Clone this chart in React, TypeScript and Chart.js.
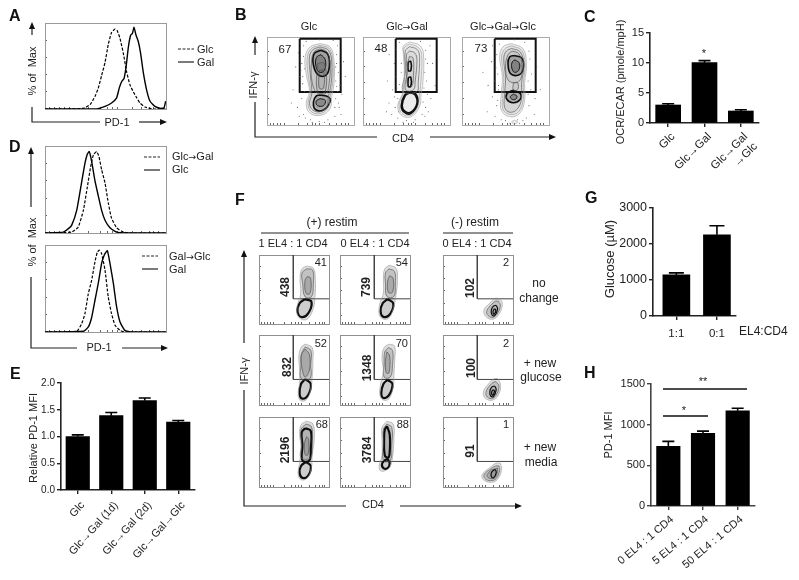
import React, { useEffect, useRef } from "react";
import { Chart, registerables } from "chart.js";

Chart.register(...registerables);
Chart.defaults.font.family = '"Liberation Sans", Arial, sans-serif';
Chart.defaults.color = "#222";

const W = 799;
const H = 580;
const FONT = '"Liberation Sans", Arial, sans-serif';

// ---------- Histogram data (PD-1 axis position, % of max) ----------
const histAGlc = [0,0, 18,0, 31.7,0.8, 37.2,5, 41.3,14.6, 44,24, 46.8,39, 49.6,54, 52.3,75, 55,89, 57.9,93, 59.8,90.8, 62,82, 64.7,65, 67.5,43, 70.2,28, 73,20, 75.8,13, 78.5,7, 82.6,2.3, 89.5,0, 100,0];
const histAGal = [0,0, 42.7,0, 49.6,3, 55,7, 59.2,13, 61.4,24.6, 63.4,32, 65.3,35.4, 67,49, 68.9,72, 70.8,86, 72.2,87.7, 73.6,95, 75.2,86, 77.1,78.5, 79,65, 81.3,42, 84,22, 86.8,9, 90.9,3, 95,0.8, 98.3,1.2, 99.7,9];
const histD1Glc = [0,0, 15.2,1, 19.3,5, 22,8.8, 26.2,26, 30.3,58.6, 33,80, 35,90.8, 36.6,93.5, 38.6,82, 41.3,60, 44,43, 46.8,26, 49.6,14.6, 53.7,6, 57.9,2, 62,0.4, 100,0];
const histD1GlcGal = [0,0, 22,1, 27.5,7, 31.7,26, 35,53, 37.7,76, 40,90, 42.7,93.5, 44.6,87.7, 46.8,72.8, 49.6,57.5, 52.3,34.5, 55,17, 59.2,6, 63.4,2, 68.9,0, 100,0];
const histD2GalGlc = [0,0, 26.2,0.8, 30.3,9.6, 33,21, 35.8,44, 38.6,59.6, 41.3,80.8, 43.3,92, 44.9,94, 46.8,90, 49.6,71, 52.3,40, 55,21, 57.9,7.7, 62,1.9, 66,0, 100,0];
const histD2Gal = [0,0, 31.7,0.8, 35.8,5.8, 38.6,17, 41.3,36.5, 44,55.8, 46.8,78.8, 49,88.5, 51.5,93.5, 53.7,78.8, 56.5,55.8, 59.2,28.8, 62,11.5, 66,1.9, 71.6,0, 100,0];

// ---------- Bar data ----------
const cCats = ["Glc", "Glc→Gal", ["Glc→Gal", "→Glc"]];
const cVals = [3.0, 10.05, 2.0];
const cErr = [3.2, 10.4, 2.2];
const eCats = ["Glc", "Glc→Gal (1d)", "Glc→Gal (2d)", "Glc→Gal→Glc"];
const eVals = [1.0, 1.39, 1.67, 1.27];
const eErr = [1.03, 1.45, 1.72, 1.3];
const gCats = ["1:1", "0:1"];
const gVals = [1142, 2257];
const gErr = [1198, 2508];
const hCats = ["0 EL4 : 1 CD4", "5 EL4 : 1 CD4", "50 EL4 : 1 CD4"];
const hVals = [734, 893, 1170];
const hErr = [795, 921, 1202];

// ---------- Flow-plot tick positions ----------
const flowTicksX = [4, 8, 12, 16, 20, 36, 46, 52, 56, 60, 72, 80, 86, 90, 94];
const flowTicksY = [12, 30, 48, 66, 84];
const histTicksY = [20, 40, 60, 80, 100];

// ---------- Gates ----------
const bGate = [37.6,98, 84.7,98, 84.7,37.6, 37.6,37.6, 37.6,98];
const fGate = [49,100, 49,36.5, 100,36.5];

// ---------- Panel B contours ----------
const b1Soft = [
  [61,92.5, 72.5,88.7, 77,73.6, 77,47, 74.4,32, 72.5,18.9, 63,11.3, 49.6,13.2, 45,24.5, 48.8,37.7, 45,58.5, 43.9,77.4, 49.6,88.7],
  [61,90.5, 71.5,87, 75.7,72.5, 75.4,47, 72.5,32, 70.6,20, 62,13, 51,15, 47,24.5, 50,37, 47,58.5, 46.4,77.4, 51,87],
];
const b1Mid = [
  [61,88.7, 70.6,85, 74.4,71.7, 73.7,47, 70.6,32, 68.7,20.8, 61,15, 52.6,17, 48.8,24.5, 51.5,35.8, 49.6,58.5, 48.8,77.4, 52.6,85.4],
  [61,86.5, 69,83, 72.5,70, 71.5,48, 68,36, 58,36, 52,48, 51,70, 54,83],
  [58,70, 66,70, 67,38, 58,38],
  [60,62, 65,62, 65,42, 60,42],
];
const b1Dark = [
  [61.8,84.9, 69.5,81, 71.8,67.9, 68,56.6, 59.2,56.6, 53.4,67.9, 54.2,81],
  [62,80, 67,74, 66,62, 60,60, 56,68, 57,77],
  [61,34, 70.6,32, 72.5,26.4, 65,17, 55.4,17.7, 53.4,26.4, 56.5,32.8],
  [61,30, 67,28, 65,22, 58,22, 56.5,27],
];
const b1Dust = [38,55, 40,70, 36,82, 42,90, 82,60, 80,80, 84,45, 79,30, 83,20, 40,30, 35,20, 42,12, 78,10, 70,6, 50,6, 60,4, 30,40, 86,35, 41,47, 39,62, 81,90, 33,66, 88,72, 45,95, 76,96, 60,97, 37,10, 85,12, 28,25, 90,55, 52,3, 66,3, 43,38, 81,38, 79,50, 42,78, 80,70, 82,25, 43,64, 41,55, 79,66, 80,44, 78,20, 44,8];

const b2Soft = [
  [53.4,94.3, 64.9,90.6, 69.5,81, 68.7,47, 66.8,35.8, 64.9,20.8, 55.3,9.4, 43.9,11.3, 40,22.6, 45.8,37.7, 47.7,77.4, 45.8,88.7],
  [53.4,92, 63,88.5, 67.5,80, 66.5,48, 65,36, 63,21, 55,11, 45,13, 41.5,23, 46.5,37, 47.5,62, 47,87],
];
const b2Mid = [
  [53.4,89, 62,86, 65,78, 63.5,48, 62,38, 46,38, 49,62, 48.5,84],
  [53.4,84, 59.5,82, 62,74, 60,50, 58,40, 49,40, 50.5,60, 50,80],
  [53.4,78, 57.5,76, 58,56, 56,44, 51,44, 51.5,70],
];
const b2Dark = [
  [53.4,37.7, 60.3,35.8, 63,24.5, 55.3,13.2, 47.7,14.3, 43.9,22, 47.7,34],
  [53.4,36.5, 59.5,34.5, 62,24.5, 55,14.5, 48.5,15.5, 45,22, 48.5,33],
  [52,72, 55,72, 55,62, 52,62],
  [52,54, 55,54, 55,44, 52,44],
];
const b2Dust = [36,70, 38,55, 34,40, 30,25, 33,12, 40,8, 50,5, 60,6, 68,12, 72,20, 74,35, 73,50, 74,70, 72,85, 66,95, 42,94, 38,86, 40,30, 42,46, 44,60, 71,60, 70,42, 69,26, 37,20, 36,32, 58,3, 46,3, 75,15, 78,30, 28,50, 80,70, 77,90, 30,80, 41,15, 71,10, 44,70, 72,75, 39,42, 27,15, 83,45];

const b3Soft = [
  [56.7,92.5, 70,86.8, 74,69.8, 72,47, 72,28.3, 66.3,13.2, 54.8,9.4, 45.2,17, 45.2,35.8, 46.4,54.7, 43.3,77.4, 47,88.7],
  [56.7,90, 68.5,85, 72.5,69, 70.5,47, 70.5,29, 65,15, 55,12, 47,18, 47,35, 48,54, 45.5,77, 49,86.5],
  [60.5,5.5, 64,3.5, 60.5,1.6, 57,3.5],
];
const b3Mid = [
  [57,87, 67,83, 71,68, 68.5,47, 68.5,30, 63.5,18, 55,14.5, 49,20, 49,35, 50,54, 48,76, 51,84],
  [57.5,84, 65.5,81, 69,67, 66,50, 54,50, 50,66, 53,80],
  [59,48, 64,48, 64,40, 59,40],
];
const b3Dark = [
  [60.5,79, 69.3,75.5, 70,62.3, 64.4,56.6, 55.6,58.5, 52.9,69.8, 54.8,77.4],
  [61,74, 66,70, 65,62, 60,60, 57,66, 58,72],
  [58.6,39.6, 67,35.8, 66.3,28.3, 58.6,25.3, 51.7,29, 51.7,35.8],
  [59,35, 63,33, 62,29.5, 58,29, 55.5,32],
];
const b3Dust = [39,65, 37,50, 40,80, 35,90, 78,75, 80,58, 79,40, 77,22, 74,8, 40,22, 38,10, 50,5, 64,6, 30,45, 84,30, 42,40, 41,28, 76,50, 43,92, 72,94, 60,97, 34,72, 86,66, 29,15, 83,12, 45,6, 70,5, 41,58, 77,84, 42,45, 76,35, 35,32, 90,40, 24,60, 55,2, 66,2];

// ---------- Panel F contours ----------
const f11Soft = [[68,84, 77.6,80.9, 80.5,64, 80,40, 77.6,23, 70.5,8.6, 62.4,6.2, 54.8,13, 54.8,27, 59.5,43.5, 58.6,67.5, 61.4,80]];
const f11Mid = [[68,80, 76.6,78, 77.6,58.6, 75,39.5, 65.7,39.5, 62.4,58.6, 61.4,73.8], [69,68.8, 73.8,66.4, 72.9,44.5, 67.1,44.5, 65.7,63]];
const f11Dark = [[65.7,36, 75,32, 70.5,15.8, 61,10, 55,18, 58,30]];
const f12Soft = [[70,85, 80,81, 82,65, 80,42, 76,22, 70,9, 62,7, 56,14, 57,30, 62,45, 62,68, 64,80]];
const f12Mid = [[70,80, 78,76, 79,58, 77,40, 67,40, 65,58, 65,74], [71,70, 76,66, 75,46, 69,46, 68,62]];
const f12Dark = [[68,36, 76,30, 72,15, 63,10, 58,18, 61,30]];
const f13Soft = [[81,37, 84.8,30, 81,15.7, 71.4,7, 61,11, 58.6,20.5, 66.7,30, 73.8,37]];
const f13Mid = [[79,33, 82,27, 77,14, 70,9.5, 63,14, 63,20, 69,28, 75,33]];
const f13Dark = [[76,27, 78,22, 74,12, 70,13, 69,20, 72,26], [74.5,22, 75.5,19, 73,14, 71.5,16, 72,20]];
const f21Soft = [[66,87, 76,82, 77,62, 76,40, 74,22, 68,8, 60,6, 56,14, 58,32, 58,50, 57,70, 60,82]];
const f21Mid = [[66,83, 74,78, 74,58, 73,38, 60,38, 60,58, 61,74], [66,80, 72,72, 72,50, 66,40, 62,50, 60,70]];
const f21Dark = [[66,37, 74,30, 70,14, 62,9, 58,16, 60,30]];
const f22Soft = [[70,87, 78,84, 78,62, 77,42, 76,26, 70,9, 62,7, 57,14, 58,30, 62,48, 60,68, 63,82]];
const f22Mid = [[69,82, 75,78, 75,58, 72,40, 63,40, 63,60, 64,76], [67,76, 71,70, 70,46, 66,46, 65,62]];
const f22Dark = [[68,36, 75,30, 70,14, 62,10, 59,17, 62,30]];
const f23Soft = [[78,38, 82,30, 80,16, 71,7, 60,10, 58,20, 65,30, 72,37]];
const f23Mid = [[76,33, 80,27, 76,14, 69,9, 62,13, 62,20, 67,28, 73,33]];
const f23Dark = [[74,27, 76,22, 72,12, 68,13, 67,20, 70,26], [72.5,22, 73.5,19, 71,14, 69.5,16, 70,20]];
const f31Soft = [[68,94, 77,90, 79,70, 76,45, 75,28, 70,14, 61,10, 56,18, 58,35, 60,55, 58,78, 61,90]];
const f31Mid = [[67,90, 75,86, 76,66, 74,42, 60,42, 61,62, 60,82], [68,72, 71,68, 70,46, 66,46, 65,62]];
const f31Dark = [[66,84, 74,80, 74,55, 72,38, 62,38, 62,60, 61,78], [67,36, 74,30, 70,16, 62,13, 58,20, 60,30]];
const f32Soft = [[67,94, 76,90, 77,68, 75,42, 72,30, 66,24, 58,23, 56,30, 60,45, 60,68, 60,85]];
const f32Mid = [[67,90, 74,85, 74,60, 72,38, 62,38, 62,65, 62,82]];
const f32Dark = [[67,87, 71,75, 71,50, 69,42, 64,45, 63,70, 64,82], [68,40, 71,34, 68,27, 62,27, 60,33, 64,38]];
const f33Soft = [[82,34, 83.8,25, 77.6,10.5, 68,6.7, 57.6,10.5, 56,17.6, 66,27, 75.7,34]];
const f33Mid = [[80,30, 81,24, 76,12, 68,9, 60,12, 59,18, 67,25, 75,30], [78,27, 78,22, 74,13, 68,12, 63,15, 64,19, 69,24]];
const f33Dark = [[75,25, 76,20, 72,13, 69,15, 69,20, 72,24]];

// ---------- Helpers ----------
const pairs = (flat: number[]) => {
  const out: { x: number; y: number }[] = [];
  for (let i = 0; i < flat.length; i += 2) out.push({ x: flat[i], y: flat[i + 1] });
  return out;
};
const ring = (flat: number[]) => {
  const p = pairs(flat);
  p.push(p[0]);
  return p;
};

const framePlugin = {
  id: "frame",
  beforeDatasetsDraw(chart: any, _a: any, opts: any) {
    if (!opts.color) return;
    const { ctx, chartArea: a } = chart;
    ctx.save();
    ctx.strokeStyle = opts.color;
    ctx.lineWidth = 1;
    ctx.strokeRect(a.left + 0.5, a.top + 0.5, a.right - a.left, a.bottom - a.top);
    ctx.restore();
  },
};
const errorPlugin = {
  id: "errorBars",
  afterDatasetsDraw(chart: any, _a: any, opts: any) {
    if (!opts.tops) return;
    const { ctx, scales } = chart;
    ctx.save();
    ctx.strokeStyle = "#000";
    ctx.lineWidth = 1.6;
    opts.tops.forEach((t: number, i: number) => {
      const x = scales.x.getPixelForValue(i);
      const y0 = scales.y.getPixelForValue(opts.vals[i]);
      const y1 = scales.y.getPixelForValue(t);
      ctx.beginPath();
      ctx.moveTo(x, y0);
      ctx.lineTo(x, y1);
      ctx.moveTo(x - opts.cap / 2, y1);
      ctx.lineTo(x + opts.cap / 2, y1);
      ctx.stroke();
    });
    ctx.restore();
  },
};

const flatAxis = (size: number) => (s: any) => {
  if (s.isHorizontal()) s.height = size;
  else s.width = size;
  s.paddingLeft = s.paddingRight = s.paddingTop = s.paddingBottom = 0;
};
const padFor = (b: any, leftW = 0) => ({
  left: b.x - leftW,
  top: b.y,
  right: W - b.x - b.w,
  bottom: 0,
});

function flowScale(values: number[], bottomGap: number, color: string) {
  return {
    type: "linear",
    min: 0,
    max: 100,
    afterBuildTicks: (s: any) => {
      s.ticks = values.map((v) => ({ value: v }));
    },
    ticks: { display: false },
    border: { display: false },
    grid: { drawOnChartArea: false, drawTicks: true, tickLength: -2, color },
    afterFit: flatAxis(bottomGap),
  };
}

function flowOptions(box: any, frame: string, yTicks: number[]) {
  return {
    responsive: false,
    animation: false,
    events: [],
    layout: { padding: padFor(box) },
    plugins: { legend: { display: false }, tooltip: { enabled: false }, frame: { color: frame } },
    scales: {
      x: flowScale(flowTicksX, H - box.y - box.h, "#666"),
      y: flowScale(yTicks, 0, "#666"),
    },
  };
}

function histConfig(box: any, dashed: number[], solid: number[]) {
  const line = (d: number[], dash: number[], width: number) => ({
    data: pairs(d),
    showLine: true,
    borderColor: "#000",
    borderWidth: width,
    borderDash: dash,
    pointRadius: 0,
    tension: 0.15,
  });
  return {
    type: "scatter",
    data: { datasets: [line(dashed, [3, 1.6], 1.2), line(solid, [], 1.4)] },
    options: flowOptions(box, "#9a9a9a", histTicksY),
  };
}

function contourConfig(box: any, frame: string, soft: number[][], mid: number[][], dark: number[][], gate: number[], gateColor: string, gateWidth: number, dust: number[], alpha: number, darkWidth: number, darkAlpha: number, thinOdd: boolean) {
  const shade = `rgba(0,0,0,${alpha})`;
  const mk = (r: number[], color: string, width: number, fill: any, bg = shade) => ({
    data: ring(r),
    showLine: true,
    borderColor: color,
    borderWidth: width,
    backgroundColor: bg,
    fill,
    pointRadius: 0,
    tension: 0.4,
  });
  return {
    type: "scatter",
    data: {
      datasets: [
        { data: pairs(dust), showLine: false, pointRadius: 0.55, pointBorderWidth: 0, pointBackgroundColor: "#666" },
        ...soft.map((r) => mk(r, "#9a9a9a", 0.6, "shape")),
        ...mid.map((r) => mk(r, "#6a6a6a", 0.7, "shape")),
        ...dark.map((r, i) => mk(r, "#111", thinOdd && i % 2 === 1 ? 0.9 : darkWidth, darkAlpha ? "shape" : false, `rgba(0,0,0,${darkAlpha})`)),
        { data: pairs(gate), showLine: true, borderColor: gateColor, borderWidth: gateWidth, pointRadius: 0, tension: 0 },
      ],
    },
    options: flowOptions(box, frame, flowTicksY),
  };
}

function barConfig(a: any) {
  const { box, cats, vals, errs, yMax, step, leftW, thick, cap, tickFont, labelFont, rot, pad, shift, decimals, axisColor, xMin, xMax } = a;
  return {
    type: "bar",
    data: {
      datasets: [
        {
          data: vals.map((v: number, i: number) => ({ x: i, y: v })),
          backgroundColor: "#000",
          borderWidth: 0,
          barThickness: thick,
        },
      ],
    },
    options: {
      responsive: false,
      animation: false,
      events: [],
      layout: { padding: padFor(box, leftW) },
      plugins: { legend: { display: false }, tooltip: { enabled: false }, errorBars: { tops: errs, vals, cap } },
      scales: {
        x: {
          type: "linear",
          offset: false,
          min: xMin,
          max: xMax,
          afterBuildTicks: (s: any) => {
            s.ticks = cats.map((_: any, i: number) => ({ value: i }));
          },
          ticks: {
            autoSkip: false,
            minRotation: rot,
            maxRotation: rot,
            padding: pad,
            labelOffset: shift,
            color: "#222",
            font: { size: labelFont },
            callback: (v: number) => cats[v],
          },
          border: { display: true, color: axisColor, width: 1.6 },
          grid: { offset: false, drawOnChartArea: false, drawTicks: true, tickLength: 4, color: axisColor, lineWidth: 1.4 },
          afterFit: flatAxis(H - box.y - box.h),
        },
        y: {
          min: 0,
          max: yMax,
          ticks: {
            stepSize: step,
            padding: 2,
            color: "#222",
            font: { size: tickFont },
            callback: (v: number) => (decimals ? v.toFixed(decimals) : String(v)),
          },
          border: { display: true, color: axisColor, width: 1.6 },
          grid: { drawOnChartArea: false, drawTicks: true, tickLength: 4, color: axisColor, lineWidth: 1.4 },
          afterFit: flatAxis(leftW),
        },
      },
    },
  };
}

const fCols = [
  { x: 259, w: 70 },
  { x: 340, w: 70 },
  { x: 443, w: 70 },
];
const fRows = [
  { y: 255, h: 69 },
  { y: 335, h: 70 },
  { y: 417, h: 70 },
];
const fBox = (c: number, r: number) => ({ x: fCols[c].x, w: fCols[c].w, y: fRows[r].y, h: fRows[r].h });

function buildConfigs(): any[] {
  const cfg: any[] = [];
  cfg.push(histConfig({ x: 45, y: 23, w: 121, h: 86 }, histAGlc, histAGal));
  cfg.push(histConfig({ x: 45, y: 146, w: 121, h: 87 }, histD1GlcGal, histD1Glc));
  cfg.push(histConfig({ x: 45, y: 245, w: 121, h: 87 }, histD2GalGlc, histD2Gal));

  cfg.push(contourConfig({ x: 267, y: 37, w: 87, h: 88 }, "#aaaaaa", b1Soft, b1Mid, b1Dark, bGate, "#111", 2, b1Dust, 0.06, 1.6, 0.2, true));
  cfg.push(contourConfig({ x: 363, y: 37, w: 87, h: 88 }, "#aaaaaa", b2Soft, b2Mid, b2Dark, bGate, "#111", 2, b2Dust, 0.04, 1.6, 0, false));
  cfg.push(contourConfig({ x: 462, y: 37, w: 87, h: 88 }, "#aaaaaa", b3Soft, b3Mid, b3Dark, bGate, "#111", 2, b3Dust, 0.06, 1.6, 0.2, true));

  const fData = [
    [f11Soft, f11Mid, f11Dark], [f12Soft, f12Mid, f12Dark], [f13Soft, f13Mid, f13Dark],
    [f21Soft, f21Mid, f21Dark], [f22Soft, f22Mid, f22Dark], [f23Soft, f23Mid, f23Dark],
    [f31Soft, f31Mid, f31Dark], [f32Soft, f32Mid, f32Dark], [f33Soft, f33Mid, f33Dark],
  ];
  fData.forEach((d, i) => {
    const col = i % 3;
    cfg.push(contourConfig(fBox(col, Math.floor(i / 3)), "#8f8f8f", d[0], d[1], d[2], fGate, "#444", 1, [], 0.13, col === 2 ? 1.2 : 2.2, 0.08, false));
  });

  cfg.push(barConfig({
    box: { x: 650, y: 33, w: 109, h: 90 }, cats: cCats, vals: cVals, errs: cErr, yMax: 15, step: 5,
    leftW: 37, thick: 25, cap: 12, tickFont: 11, labelFont: 11.5, rot: 45, pad: 3, shift: 5,
    xMin: -0.5, xMax: 2.5, axisColor: "#222",
  }));
  cfg.push(barConfig({
    box: { x: 61, y: 383, w: 134, h: 107 }, cats: eCats, vals: eVals, errs: eErr, yMax: 2, step: 0.5,
    leftW: 35, thick: 23.5, cap: 12, tickFont: 10, labelFont: 11, rot: 48, pad: 5, shift: 5, decimals: 1,
    xMin: -0.5, xMax: 3.5, axisColor: "#222",
  }));
  cfg.push(barConfig({
    box: { x: 653, y: 208, w: 83, h: 108 }, cats: gCats, vals: gVals, errs: gErr, yMax: 3000, step: 1000,
    leftW: 51, thick: 27, cap: 15, tickFont: 12.5, labelFont: 11.5, rot: 0, pad: 7, shift: 0,
    xMin: -0.576, xMax: 1.47, axisColor: "#222",
  }));
  cfg.push(barConfig({
    box: { x: 651, y: 384, w: 104, h: 122 }, cats: hCats, vals: hVals, errs: hErr, yMax: 1500, step: 500,
    leftW: 49, thick: 23.5, cap: 12, tickFont: 11, labelFont: 11, rot: 40, pad: 3, shift: 4,
    xMin: -0.5, xMax: 2.5, axisColor: "#444",
  }));
  return cfg;
}

// ---------- SVG text & arrows ----------
const withArrows = (content: any) => {
  if (typeof content !== "string" || !content.includes("→")) return content;
  return content.split("→").flatMap((part, i) =>
    i === 0 ? [part] : [<tspan key={i} fontFamily="DejaVu Sans" fontSize="0.85em">→</tspan>, part]
  );
};
const T = ({ x, y, s = 11, a = "start", w, r, c = "#222", children }: any) => (
  <text
    x={x}
    y={y}
    fontFamily={FONT}
    fontSize={s}
    fontWeight={w}
    fill={c}
    textAnchor={a}
    style={{ whiteSpace: "pre" }}
    transform={r ? `rotate(${r} ${x} ${y})` : undefined}
  >
    {withArrows(children)}
  </text>
);
const L = ({ d, c = "#222", w = 1.2, dash }: any) => <path d={d} stroke={c} strokeWidth={w} fill="none" strokeDasharray={dash} />;
const ArrowRight = ({ x, y }: any) => <polygon points={`${x},${y} ${x - 7},${y - 3} ${x - 7},${y + 3}`} fill="#111" />;
const ArrowUp = ({ x, y }: any) => <polygon points={`${x},${y} ${x - 3},${y + 7} ${x + 3},${y + 7}`} fill="#111" />;

const panelLetters: [string, number, number][] = [
  ["A", 9, 21], ["B", 235, 20], ["C", 584, 22], ["D", 9, 152], ["E", 10, 379], ["F", 235, 205], ["G", 585, 203], ["H", 584, 378],
];
const fNumbers: [string, number, number][] = [
  ["41", 327, 266], ["54", 408, 266], ["2", 509, 266],
  ["52", 327, 347], ["70", 408, 347], ["2", 509, 347],
  ["68", 328, 428], ["88", 409, 428], ["1", 509, 428],
];
const fCounts: [string, number, number][] = [
  ["438", 289, 287], ["739", 370, 287], ["102", 474, 288],
  ["832", 291, 367], ["1348", 371, 368], ["100", 475, 368],
  ["2196", 289, 450], ["3784", 371, 450], ["91", 474, 451],
];

function Overlay() {
  return (
    <svg width={W} height={H} style={{ position: "absolute", left: 0, top: 0 }}>
      {panelLetters.map(([t, x, y]) => (
        <T key={t} x={x} y={y} s={16} w="bold" c="#111">{t}</T>
      ))}
      {/* axis titles of the bar panels */}
      <T x={624} y={82} r={-90} a="middle">OCR/ECAR (pmole/mpH)</T>
      <T x={36.7} y={438} r={-90} a="middle">Relative PD-1 MFI</T>
      <T x={613.5} y={259} r={-90} a="middle" s={13}>Glucose (µM)</T>
      <T x={612} y={435} r={-90} a="middle">PD-1 MFI</T>
      {/* A */}
      <L d="M178 49H194" w={1} dash="3 1.5" />
      <L d="M178 62H194" />
      <T x={197} y={53}>Glc</T>
      <T x={197} y={66}>Gal</T>
      <T x={36} y={71} r={-90} a="middle">% of  Max</T>
      <L d="M32 35V27" /><ArrowUp x={32} y={22} />
      <L d="M32 107V122H100" />
      <T x={117} y={126} a="middle">PD-1</T>
      <L d="M139 122H163" /><ArrowRight x={167} y={122} />
      {/* B */}
      <T x={309} y={30} a="middle">Glc</T>
      <T x={407} y={30} a="middle">Glc→Gal</T>
      <T x={503} y={30} a="middle">Glc→Gal→Glc</T>
      <T x={285} y={53} a="middle" s={11.5}>67</T>
      <T x={381} y={52} a="middle" s={11.5}>48</T>
      <T x={481} y={52} a="middle" s={11.5}>73</T>
      <L d="M255 55V40" /><ArrowUp x={255} y={36} />
      <T x={257} y={85} r={-90} a="middle">IFN-γ</T>
      <L d="M255 102V137H377" />
      <T x={403} y={142} a="middle">CD4</T>
      <L d="M430 137H551" /><ArrowRight x={556} y={137} />
      {/* C */}
      <T x={704} y={57} a="middle">*</T>
      {/* D */}
      <L d="M144 157H160" w={1} dash="3 1.5" />
      <L d="M144 170H160" />
      <T x={172} y={160}>Glc→Gal</T>
      <T x={172} y={173}>Glc</T>
      <L d="M142 256H158" w={1} dash="3 1.5" />
      <L d="M142 269H158" />
      <T x={169} y={260}>Gal→Glc</T>
      <T x={169} y={273}>Gal</T>
      <L d="M31 207V152" /><ArrowUp x={31} y={147} />
      <T x={36} y={242} r={-90} a="middle">% of  Max</T>
      <L d="M31 277V348H77" />
      <T x={99} y={351} a="middle">PD-1</T>
      <L d="M122 348H163" /><ArrowRight x={168} y={348} />
      {/* F */}
      <T x={332} y={226} s={12} a="middle">(+) restim</T>
      <T x={475} y={226} s={12} a="middle">(-) restim</T>
      <L d="M261 233H409" w={1} />
      <L d="M443 233H513" w={1} />
      <T x={293} y={247} a="middle">1 EL4 : 1 CD4</T>
      <T x={375} y={247} a="middle">0 EL4 : 1 CD4</T>
      <T x={477} y={247} a="middle">0 EL4 : 1 CD4</T>
      {fNumbers.map(([t, x, y], i) => (
        <T key={i} x={x} y={y} a="end">{t}</T>
      ))}
      {fCounts.map(([t, x, y], i) => (
        <T key={i} x={x} y={y} a="middle" s={12} w="bold" r={-90}>{t}</T>
      ))}
      <T x={539} y={287} s={12} a="middle">no</T>
      <T x={539} y={302} s={12} a="middle">change</T>
      <T x={540} y={367} s={12} a="middle">+ new</T>
      <T x={541} y={381} s={12} a="middle">glucose</T>
      <T x={540} y={451} s={12} a="middle">+ new</T>
      <T x={541} y={466} s={12} a="middle">media</T>
      <L d="M244 343V255" /><ArrowUp x={244} y={250} />
      <T x={248} y={371} r={-90} a="middle">IFN-γ</T>
      <L d="M244 390V506H346" />
      <T x={373} y={508} a="middle">CD4</T>
      <L d="M400 506H517" /><ArrowRight x={522} y={506} />
      {/* G */}
      <T x={739} y={335} s={12}>EL4:CD4</T>
      {/* H */}
      <L d="M663 416H708" c="#111" w={1.5} />
      <L d="M663 389H747" c="#111" w={1.5} />
      <T x={684} y={414} a="middle">*</T>
      <T x={703} y={385} a="middle">**</T>
    </svg>
  );
}

function Layer({ config }: { config: any }) {
  const ref = useRef<HTMLCanvasElement>(null);
  useEffect(() => {
    const chart = new Chart(ref.current as HTMLCanvasElement, { ...config, plugins: [framePlugin, errorPlugin] });
    return () => chart.destroy();
  }, [config]);
  return <canvas ref={ref} width={W} height={H} style={{ position: "absolute", left: 0, top: 0, width: W, height: H }} />;
}

const configs = buildConfigs();

export default function App() {
  return (
    <div style={{ position: "fixed", left: 0, top: 0, width: W, height: H, background: "#fff", overflow: "hidden" }}>
      {configs.map((c, i) => (
        <Layer key={i} config={c} />
      ))}
      <Overlay />
    </div>
  );
}
